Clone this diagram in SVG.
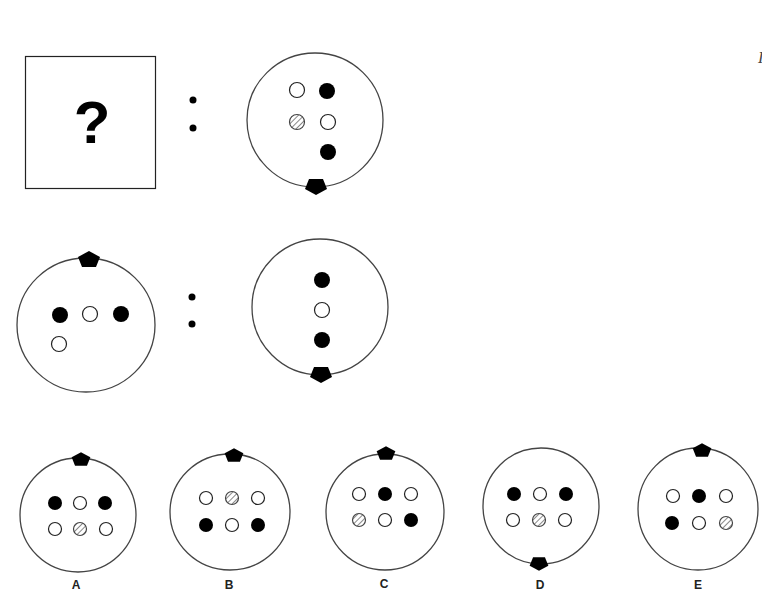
<svg xmlns="http://www.w3.org/2000/svg" width="762" height="607" viewBox="0 0 762 607">
<style>
.ring{fill:none;stroke:#444;stroke-width:1.3}
.o{fill:#fff;stroke:#222;stroke-width:1.2}
.b{fill:#000}
.h{fill:url(#hatch);stroke:#444;stroke-width:1.2}
.lbl{font-family:"Liberation Sans",Arial,sans-serif;font-weight:bold;font-size:12px;fill:#222;text-anchor:middle}
</style>
<defs>
<pattern id="hatch" patternUnits="userSpaceOnUse" width="4" height="4" patternTransform="rotate(45)">
<rect width="4" height="4" fill="#fff"/>
<line x1="0" y1="0" x2="0" y2="4" stroke="#555" stroke-width="1.4"/>
</pattern>
<path id="pent" d="M0,-8 L11,-2 L7,8 L-7,8 L-11,-2 Z" fill="#000"/>
</defs>
<rect width="762" height="607" fill="#fff"/>

<g id="question">
<rect x="25.5" y="56.5" width="130" height="132" fill="#fff" stroke="#222" stroke-width="1.2"/>
<text x="92" y="143" font-family="Liberation Sans,Arial,sans-serif" font-weight="bold" font-size="60" text-anchor="middle" fill="#000">?</text>
</g>
<g id="colon1"><circle cx="193" cy="100" r="3.5" class="b"/><circle cx="193" cy="128" r="3.5" class="b"/></g>

<g id="fig1">
<ellipse cx="315" cy="120" rx="68" ry="67" class="ring"/>
<use href="#pent" transform="translate(316,187) rotate(180)"/>
<circle cx="297" cy="90" r="7.5" class="o"/>
<circle cx="327" cy="91" r="8" class="b"/>
<circle cx="297" cy="122" r="7.5" class="h"/>
<circle cx="328" cy="122" r="7.5" class="o"/>
<circle cx="328" cy="152" r="8" class="b"/>
</g>

<g id="fig2">
<ellipse cx="86" cy="325" rx="69" ry="67" class="ring"/>
<use href="#pent" transform="translate(89,259)"/>
<circle cx="60" cy="315" r="8" class="b"/>
<circle cx="90" cy="314" r="7.5" class="o"/>
<circle cx="121" cy="314" r="8" class="b"/>
<circle cx="59" cy="344" r="7.5" class="o"/>
</g>
<g id="colon2"><circle cx="192" cy="297" r="3.5" class="b"/><circle cx="192" cy="324" r="3.5" class="b"/></g>

<g id="fig3">
<ellipse cx="320" cy="307" rx="68" ry="68" class="ring"/>
<use href="#pent" transform="translate(321,375) rotate(180)"/>
<circle cx="322" cy="280" r="8" class="b"/>
<circle cx="322" cy="310" r="7.5" class="o"/>
<circle cx="322" cy="340" r="8" class="b"/>
</g>

<g id="optA">
<ellipse cx="78" cy="515" rx="58" ry="57" class="ring"/>
<use href="#pent" transform="translate(81,459) scale(0.85)"/>
<circle cx="55" cy="503" r="7" class="b"/>
<circle cx="80" cy="503" r="6.5" class="o"/>
<circle cx="105" cy="503" r="7" class="b"/>
<circle cx="55" cy="529" r="6.5" class="o"/>
<circle cx="80" cy="529" r="6.5" class="h"/>
<circle cx="106" cy="529" r="6.5" class="o"/>
<text x="76" y="589" class="lbl">A</text>
</g>

<g id="optB">
<ellipse cx="230" cy="512" rx="60" ry="58" class="ring"/>
<use href="#pent" transform="translate(234,455) scale(0.85)"/>
<circle cx="206" cy="498" r="6.5" class="o"/>
<circle cx="232" cy="498" r="6.5" class="h"/>
<circle cx="258" cy="498" r="6.5" class="o"/>
<circle cx="206" cy="525" r="7" class="b"/>
<circle cx="232" cy="525" r="6.5" class="o"/>
<circle cx="258" cy="525" r="7" class="b"/>
<text x="229" y="589" class="lbl">B</text>
</g>

<g id="optC">
<ellipse cx="385" cy="512" rx="59" ry="58" class="ring"/>
<use href="#pent" transform="translate(386,453) scale(0.85)"/>
<circle cx="359" cy="494" r="6.5" class="o"/>
<circle cx="385" cy="494" r="7" class="b"/>
<circle cx="411" cy="494" r="6.5" class="o"/>
<circle cx="359" cy="520" r="6.5" class="h"/>
<circle cx="385" cy="520" r="6.5" class="o"/>
<circle cx="411" cy="520" r="7" class="b"/>
<text x="384" y="588" class="lbl">C</text>
</g>

<g id="optD">
<ellipse cx="541" cy="506" rx="58" ry="58" class="ring"/>
<use href="#pent" transform="translate(539,564) rotate(180) scale(0.85)"/>
<circle cx="514" cy="494" r="7" class="b"/>
<circle cx="540" cy="494" r="6.5" class="o"/>
<circle cx="566" cy="494" r="7" class="b"/>
<circle cx="513" cy="520" r="6.5" class="o"/>
<circle cx="539" cy="520" r="6.5" class="h"/>
<circle cx="565" cy="520" r="6.5" class="o"/>
<text x="540" y="589" class="lbl">D</text>
</g>

<g id="optE">
<ellipse cx="698" cy="509" rx="60" ry="61" class="ring"/>
<use href="#pent" transform="translate(702,450) scale(0.85)"/>
<circle cx="673" cy="496" r="6.5" class="o"/>
<circle cx="699" cy="496" r="7" class="b"/>
<circle cx="726" cy="496" r="6.5" class="o"/>
<circle cx="672" cy="523" r="7" class="b"/>
<circle cx="699" cy="523" r="6.5" class="o"/>
<circle cx="726" cy="523" r="6.5" class="h"/>
<text x="698" y="589" class="lbl">E</text>
</g>

<g id="connectors"></g>
<text x="758" y="63" font-family="Liberation Serif,serif" font-style="italic" font-size="16" fill="#444">I</text>
</svg>
